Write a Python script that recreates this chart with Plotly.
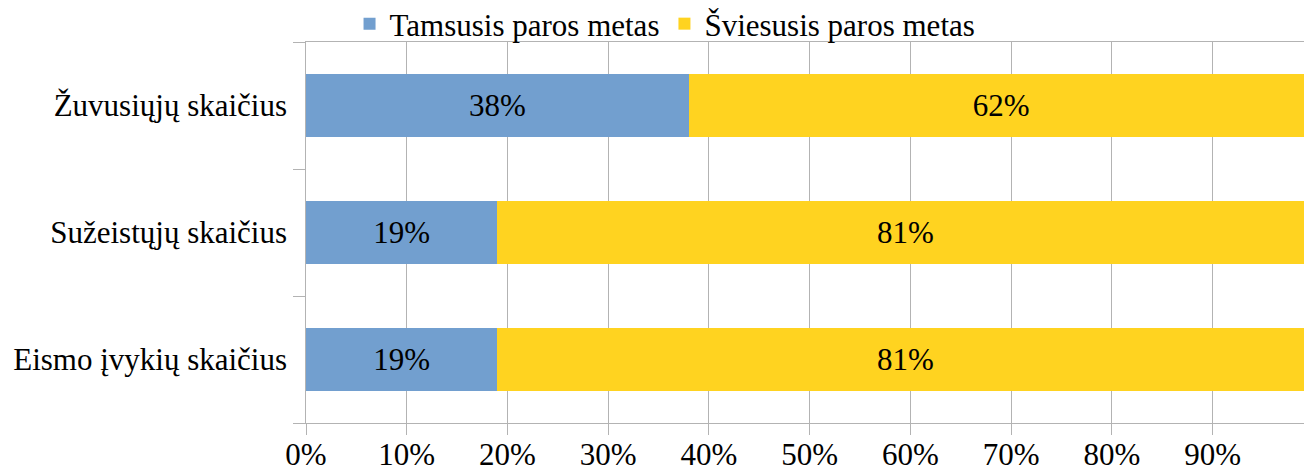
import plotly.graph_objects as go

categories = ["Eismo įvykių skaičius", "Sužeistųjų skaičius", "Žuvusiųjų skaičius"]
dark_share = [0.19, 0.19, 0.38]
light_share = [0.81, 0.81, 0.62]
series_names = ["Tamsusis paros metas", "Šviesusis paros metas"]
tick_vals = [0, 0.1, 0.2, 0.3, 0.4, 0.5, 0.6, 0.7, 0.8, 0.9]
tick_text = ["0%", "10%", "20%", "30%", "40%", "50%", "60%", "70%", "80%", "90%"]

FONT = "Liberation Serif, Times New Roman, serif"
FS = 31
GRID = "#b3b3b3"

fig = go.Figure()
fig.add_trace(go.Bar(
    y=categories, x=dark_share, name=series_names[0], orientation="h",
    marker=dict(color="#729fcf", line=dict(width=0)),
    texttemplate="%{x:.0%}", textposition="inside", insidetextanchor="middle",
    textfont=dict(family=FONT, size=FS, color="black"),
))
fig.add_trace(go.Bar(
    y=categories, x=light_share, name=series_names[1], orientation="h",
    marker=dict(color="#ffd320", line=dict(width=0)),
    texttemplate="%{x:.0%}", textposition="inside", insidetextanchor="middle",
    textfont=dict(family=FONT, size=FS, color="black"),
))

fig.update_layout(
    barmode="stack",
    bargap=0.5,
    width=1304, height=468,
    margin=dict(l=305.5, r=0, t=42, b=45, autoexpand=False),
    paper_bgcolor="white", plot_bgcolor="white",
    font=dict(family=FONT, size=FS, color="black"),
    showlegend=True,
    legend=dict(orientation="h", xref="container", yref="container",
                x=0.51, xanchor="center", y=1 - 24 / 468, yanchor="middle",
                font=dict(family=FONT, size=FS, color="black"),
                traceorder="normal", itemclick=False, bgcolor="rgba(0,0,0,0)"),
    xaxis=dict(range=[0, 0.9906], tickvals=tick_vals, ticktext=tick_text,
               showgrid=True, gridcolor=GRID, gridwidth=1,
               showline=True, linecolor=GRID, linewidth=1, mirror=True,
               ticks="outside", ticklen=11, tickcolor=GRID,
               ticklabelstandoff=-7,
               zeroline=False, tickfont=dict(family=FONT, size=FS, color="black")),
    yaxis=dict(showgrid=False, showline=True, linecolor=GRID, linewidth=1,
               ticks="outside", tickson="boundaries", ticklen=12, tickcolor=GRID,
               ticklabelstandoff=4,
               ticksuffix=" ", tickfont=dict(family=FONT, size=FS, color="black")),
)

fig.write_html(
    "out.html",
    config={"displayModeBar": False},
    post_script="document.body.style.margin='0';document.body.style.overflow='hidden';",
)
